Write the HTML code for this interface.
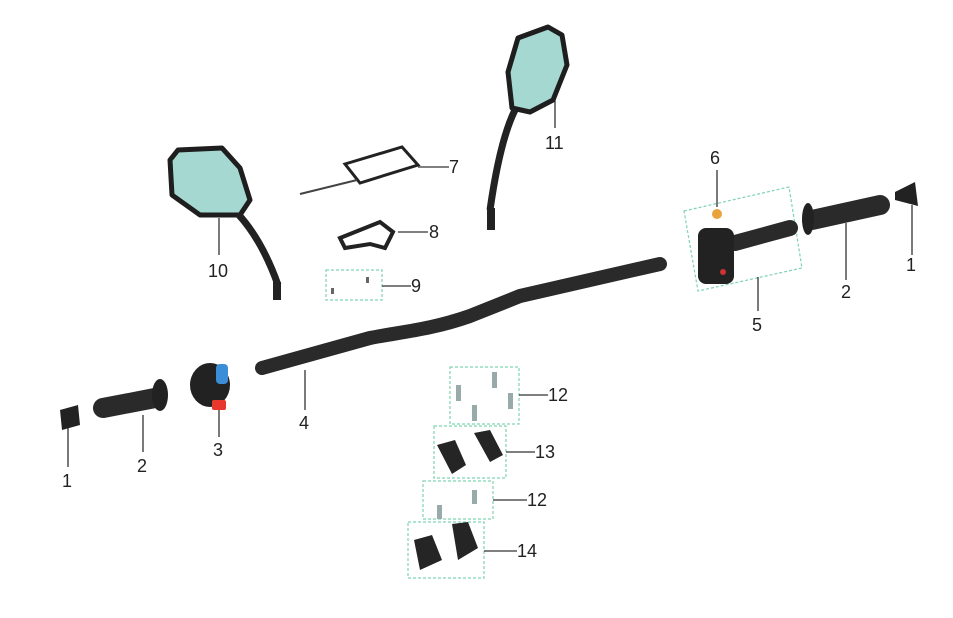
<!DOCTYPE html>
<html><head><meta charset="utf-8"><style>
html,body{margin:0;padding:0;background:#fff;}
svg{display:block;}
text{font-family:"Liberation Sans",sans-serif;font-size:18px;fill:#222;}
</style></head><body>
<svg width="953" height="618" viewBox="0 0 953 618" xmlns="http://www.w3.org/2000/svg">
<g stroke="#7fd3b0" stroke-width="1.2" stroke-dasharray="3,2" fill="none">
<rect x="326" y="270" width="56" height="30"/>
<polygon points="684,211 789,187 802,268 698,291"/>
<rect x="450" y="367" width="69" height="57"/>
<rect x="434" y="426" width="72" height="52"/>
<rect x="423" y="481" width="70" height="38"/>
<rect x="408" y="522" width="76" height="56"/>
</g>
<g stroke="#333" stroke-width="1.3">
<line x1="418" y1="167" x2="449" y2="167"/>
<line x1="398" y1="232" x2="428" y2="232"/>
<line x1="382" y1="286" x2="411" y2="286"/>
<line x1="219" y1="218" x2="219" y2="255"/>
<line x1="555" y1="95" x2="555" y2="128"/>
<line x1="717" y1="170" x2="717" y2="207"/>
<line x1="758" y1="277" x2="758" y2="311"/>
<line x1="846" y1="223" x2="846" y2="280"/>
<line x1="912" y1="205" x2="912" y2="255"/>
<line x1="305" y1="370" x2="305" y2="410"/>
<line x1="219" y1="410" x2="219" y2="437"/>
<line x1="143" y1="415" x2="143" y2="452"/>
<line x1="68" y1="425" x2="68" y2="467"/>
<line x1="519" y1="395" x2="548" y2="395"/>
<line x1="506" y1="452" x2="535" y2="452"/>
<line x1="493" y1="500" x2="527" y2="500"/>
<line x1="484" y1="551" x2="517" y2="551"/>
</g>
<path d="M262,368 L370,338 C400,332 430,330 470,316 L520,296 L660,264" stroke="#2a2a2a" stroke-width="14" fill="none" stroke-linecap="round"/>
<!-- mirror 10 -->
<path d="M178,150 L222,148 L240,168 L250,200 L240,215 L200,215 L172,195 L170,160 Z" fill="#a6d8d2" stroke="#1e1e1e" stroke-width="5" stroke-linejoin="round"/>
<path d="M238,214 Q262,240 278,285" stroke="#222" stroke-width="7" fill="none"/>
<rect x="273" y="282" width="8" height="18" fill="#222"/>
<!-- mirror 11 -->
<path d="M518,38 L548,27 L562,35 L567,65 L553,100 L530,112 L512,108 L508,72 Z" fill="#a6d8d2" stroke="#1e1e1e" stroke-width="5" stroke-linejoin="round"/>
<path d="M515,110 Q500,140 490,210" stroke="#222" stroke-width="7" fill="none"/>
<rect x="487" y="208" width="8" height="22" fill="#222"/>
<!-- 7 -->
<polygon points="345,164 402,147 418,165 360,183" fill="#fff" stroke="#222" stroke-width="3"/>
<path d="M357,180 L300,194" stroke="#444" stroke-width="2"/>
<!-- 8 -->
<path d="M340,238 L380,222 L393,232 L385,248 L370,244 L345,248 Z" fill="none" stroke="#222" stroke-width="4"/>
<!-- 9 -->
<rect x="331" y="288" width="3" height="6" fill="#666"/><rect x="366" y="277" width="3" height="6" fill="#666"/>
<!-- 5,6 -->
<circle cx="717" cy="214" r="5" fill="#e8a33a"/>
<path d="M735,243 L790,228" stroke="#2a2a2a" stroke-width="16" stroke-linecap="round"/>
<rect x="698" y="228" width="36" height="56" rx="8" fill="#222"/>
<circle cx="723" cy="272" r="3" fill="#c33"/>
<!-- right grip 2 -->
<path d="M812,220 L880,205" stroke="#2a2a2a" stroke-width="20" stroke-linecap="round"/>
<ellipse cx="808" cy="219" rx="6" ry="16" fill="#222"/>
<path d="M895,192 L915,182 L918,206 L895,200 Z" fill="#222"/>
<!-- left 1,2,3 -->
<path d="M60,410 L78,405 L80,425 L62,430 Z" fill="#222"/>
<path d="M103,408 L155,398" stroke="#2a2a2a" stroke-width="20" stroke-linecap="round"/>
<ellipse cx="160" cy="395" rx="8" ry="16" fill="#222"/>
<ellipse cx="210" cy="385" rx="20" ry="22" fill="#222"/>
<rect x="216" y="364" width="12" height="20" rx="4" fill="#3a8ed8"/>
<rect x="212" y="400" width="14" height="10" rx="2" fill="#e8382e"/>
<!-- 12/13/14 parts -->
<g fill="#9aa">
<rect x="456" y="385" width="5" height="16"/><rect x="492" y="372" width="5" height="16"/><rect x="508" y="393" width="5" height="16"/><rect x="472" y="405" width="5" height="16"/>
<rect x="437" y="505" width="5" height="14"/><rect x="472" y="490" width="5" height="14"/>
</g>
<g fill="#252525">
<path d="M437,445 L455,440 L466,465 L452,474 Z"/><path d="M474,433 L490,430 L503,455 L490,462 Z"/>
<path d="M414,540 L432,535 L442,560 L420,570 Z"/><path d="M452,524 L468,522 L478,548 L458,560 Z"/>
</g>
<text x="449" y="173">7</text>
<text x="429" y="238">8</text>
<text x="411" y="292">9</text>
<text x="208" y="277">10</text>
<text x="545" y="149">11</text>
<text x="710" y="164">6</text>
<text x="752" y="331">5</text>
<text x="841" y="298">2</text>
<text x="906" y="271">1</text>
<text x="299" y="429">4</text>
<text x="213" y="456">3</text>
<text x="137" y="472">2</text>
<text x="62" y="487">1</text>
<text x="548" y="401">12</text>
<text x="535" y="458">13</text>
<text x="527" y="506">12</text>
<text x="517" y="557">14</text>
</svg>
</body></html>
